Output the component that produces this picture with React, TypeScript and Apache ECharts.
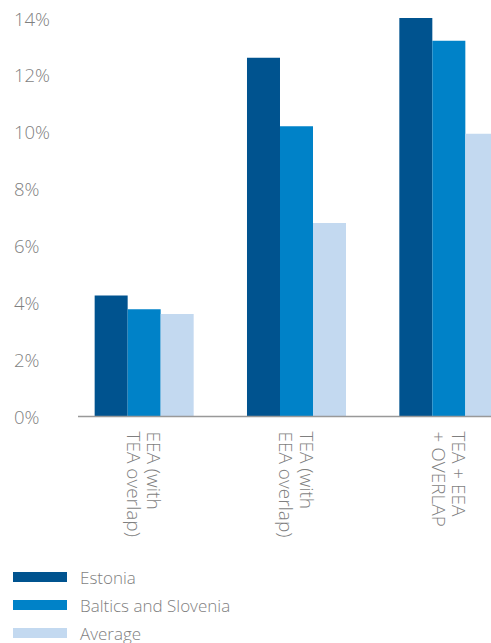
import React, { useEffect, useRef } from "react";
import * as echarts from "echarts";

const categories = ["EEA (with\nTEA overlap)", "TEA (with\nEEA overlap)", "TEA + EEA\n+ OVERLAP"];
const seriesNames = ["Estonia", "Baltics and Slovenia", "Average"];
const estonia = [4.25, 12.6, 14.0];
const baltics = [3.77, 10.2, 13.2];
const average = [3.6, 6.8, 9.93];
const yTicks = { min: 0, max: 14, interval: 2 };
const colors = ["#00538F", "#0082C8", "#C3D9F0"];

export default function App() {
  const ref = useRef<HTMLDivElement>(null);
  useEffect(() => {
    const chart = echarts.init(ref.current!, undefined, { renderer: "svg" });
    const font = "'Open Sans', Roboto, 'Liberation Sans', sans-serif";
    const values = [estonia, baltics, average];
    chart.setOption({
      animation: false,
      grid: { left: 68, right: 0, top: 18, bottom: 226.5, containLabel: false },
      legend: {
        orient: "vertical",
        left: 13,
        top: 568,
        padding: 0,
        icon: "rect",
        itemWidth: 54,
        itemHeight: 10,
        itemGap: 10,
        textStyle: { color: "#7f7f7f", fontSize: 17, lineHeight: 18, fontFamily: font, fontWeight: 300, padding: [0, 0, 0, 8] },
        data: seriesNames,
      },
      xAxis: {
        type: "category",
        data: categories,
        axisLine: { show: false },
        axisTick: { show: false },
        axisLabel: {
          rotate: -90,
          margin: 15,
          color: "#7f7f7f",
          fontSize: 19,
          lineHeight: 20.5,
          fontFamily: font,
          fontWeight: 300,
          interval: 0,
        },
      },
      yAxis: {
        type: "value",
        min: yTicks.min,
        max: yTicks.max,
        interval: yTicks.interval,
        splitLine: { show: false },
        axisLine: { show: false },
        axisTick: { show: false },
        axisLabel: {
          formatter: "{value}%",
          align: "left",
          margin: 54,
          color: "#7f7f7f",
          fontSize: 18.5,
          fontFamily: font,
          fontWeight: 300,
        },
      },
      graphic: [
        {
          type: "line",
          shape: { x1: 78, y1: 416.5, x2: 491, y2: 416.5 },
          style: { stroke: "#999999", lineWidth: 1.5 },
          z: 10,
        },
      ],
      series: seriesNames.map((name, i) => ({
        name,
        type: "bar",
        data: values[i],
        barGap: "0%",
        barCategoryGap: "35%",
        itemStyle: { color: colors[i] },
      })),
    });
    return () => chart.dispose();
  }, []);
  return (
    <div style={{ position: "absolute", left: 0, top: 0, width: 491, height: 643, overflow: "hidden" }}>
      <div ref={ref} style={{ position: "absolute", left: 0, top: 0, width: 525, height: 643 }} />
    </div>
  );
}
